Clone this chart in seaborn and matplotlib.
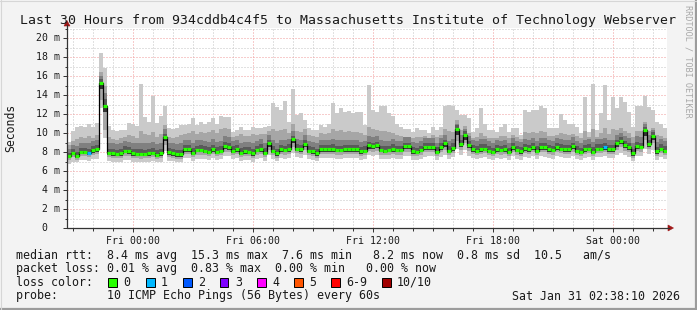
import numpy as np
import pandas as pd
import matplotlib
matplotlib.use("Agg")
import matplotlib.pyplot as plt
import matplotlib.transforms as mtrans
from matplotlib.patches import Rectangle, Polygon
from matplotlib.lines import Line2D
import seaborn as sns

# ---------------- data ----------------
title = "Last 30 Hours from 934cddb4c4f5 to Massachusetts Institute of Technology Webserver"
start_hour = -3.3      # first bin, hours relative to Fri 00:00
step_hours = 0.2       # 12 minute consolidation steps

xtick_pos = [0, 6, 12, 18, 24]
xtick_labels = ["Fri 00:00", "Fri 06:00", "Fri 12:00", "Fri 18:00", "Sat 00:00"]
ytick_pos = [0, 2, 4, 6, 8, 10, 12, 14, 16, 18, 20]
ytick_labels = [" 0", " 2 m", " 4 m", " 6 m", " 8 m", "10 m", "12 m", "14 m", "16 m", "18 m", "20 m"]

median_ms = [
    7.58, 7.93, 7.58, 8.03, 8.03, 7.93, 8.2, 8.3, 15.3, 12.84,
    7.93, 7.86, 7.76, 7.86, 8.14, 8.07, 7.86, 7.8, 7.8, 7.8,
    7.86, 7.93, 7.72, 7.86, 9.61, 7.96, 7.86, 7.76, 7.76, 8.28,
    8.28, 7.93, 8.2, 8.2, 8.14, 8.0, 8.28, 8.0, 8.14, 8.63,
    8.56, 8.14, 8.28, 7.93, 8.07, 8.0, 7.86, 8.2, 8.35, 7.93,
    8.91, 8.14, 7.86, 8.28, 8.2, 8.35, 9.33, 8.35, 8.28, 8.84,
    8.14, 8.07, 7.86, 8.28, 8.28, 8.28, 8.35, 8.2, 8.2, 8.3,
    8.28, 8.28, 8.28, 8.07, 8.14, 8.7, 8.63, 8.7, 8.2, 8.14,
    8.2, 8.35, 8.2, 8.2, 8.63, 8.63, 8.07, 8.0, 8.2, 8.49,
    8.56, 8.56, 8.0, 8.49, 8.91, 8.14, 8.42, 10.46, 8.84, 9.82,
    8.77, 8.28, 8.14, 8.35, 8.35, 8.14, 8.0, 8.28, 8.2, 8.28,
    8.0, 8.56, 8.2, 8.07, 8.42, 8.28, 8.56, 8.14, 8.56, 8.49,
    8.28, 8.2, 8.56, 8.35, 8.28, 8.28, 8.63, 8.14, 8.0, 8.28,
    8.35, 8.0, 8.35, 8.35, 8.56, 8.28, 8.28, 9.0, 9.19, 8.74,
    8.56, 7.86, 8.63, 8.56, 10.32, 8.84, 9.68, 8.1, 8.35, 8.1]

ping_max = [
    9.1, 10.2, 10.67, 10.7, 10.6, 10.95, 10.6, 11.05, 18.45, 16.87,
    10.7, 10.32, 10.25, 10.32, 10.32, 11.05, 10.95, 10.7, 15.16, 11.7,
    11.2, 13.93, 11.1, 11.79, 12.84, 10.49, 10.4, 10.49, 10.84, 10.84,
    10.9, 11.54, 10.84, 11.2, 11.0, 11.2, 11.54, 11.0, 11.79, 11.72,
    11.72, 10.14, 10.32, 10.67, 10.32, 10.3, 10.67, 10.49, 10.55, 10.67,
    10.7, 13.12, 12.77, 12.4, 13.4, 11.2, 14.6, 11.9, 12.1, 11.37,
    10.5, 10.3, 10.35, 10.84, 10.67, 10.9, 13.12, 12.07, 12.6, 12.2,
    12.3, 12.07, 12.18, 12.18, 10.84, 15.05, 12.42, 12.2, 12.84, 12.84,
    12.1, 11.75, 11.0, 10.67, 10.39, 10.39, 10.14, 10.49, 10.32, 10.32,
    9.96, 10.67, 10.32, 10.67, 12.8, 12.9, 12.85, 12.4, 11.9, 11.9,
    11.54, 10.14, 10.5, 12.6, 11.0, 10.3, 10.3, 10.14, 10.67, 10.9,
    10.14, 10.5, 10.5, 9.79, 12.45, 12.2, 12.4, 12.4, 12.8, 12.6,
    10.49, 10.49, 10.49, 11.95, 11.4, 11.0, 11.0, 10.67, 9.96, 13.82,
    10.14, 15.16, 10.32, 12.07, 15.05, 11.4, 13.82, 12.6, 13.82, 13.3,
    12.25, 10.67, 12.84, 12.84, 13.9, 12.77, 12.42, 11.2, 11.0, 10.49]

ping_hi2 = [
    8.7, 9.2, 9.4, 9.6, 9.5, 9.7, 9.5, 9.8, 16.4, 15.0,
    9.6, 9.4, 9.3, 9.5, 9.6, 9.8, 9.7, 9.5, 10.2, 9.9,
    9.8, 10.1, 9.6, 9.9, 10.8, 9.6, 9.5, 9.6, 9.8, 9.9,
    10.0, 10.2, 9.9, 10.1, 10.0, 10.1, 10.3, 10.0, 10.4, 10.5,
    10.4, 9.6, 9.7, 9.9, 9.7, 9.7, 9.9, 9.8, 9.9, 9.9,
    10.2, 10.4, 10.2, 10.3, 10.4, 10.0, 10.9, 10.2, 10.1, 10.4,
    9.8, 9.7, 9.6, 10.0, 9.9, 10.0, 10.4, 10.2, 10.3, 10.1,
    10.2, 10.1, 10.1, 10.0, 9.8, 10.6, 10.4, 10.3, 10.2, 10.2,
    10.1, 10.0, 9.8, 9.7, 9.6, 9.6, 9.5, 9.6, 9.6, 9.7,
    9.5, 9.8, 9.6, 9.8, 10.4, 10.2, 10.1, 11.4, 10.3, 10.7,
    10.0, 9.5, 9.6, 10.0, 9.7, 9.5, 9.5, 9.5, 9.7, 9.7,
    9.5, 9.8, 9.6, 9.4, 10.1, 10.0, 10.1, 10.0, 10.2, 10.1,
    9.7, 9.7, 9.8, 10.0, 9.9, 9.8, 9.9, 9.7, 9.5, 10.2,
    9.6, 10.4, 9.6, 10.0, 10.5, 9.9, 10.4, 10.3, 10.5, 10.2,
    10.0, 9.6, 10.2, 10.2, 11.2, 10.2, 10.5, 9.8, 9.7, 9.5]

ping_hi3 = [
    8.3, 8.7, 8.6, 9.0, 9.0, 9.0, 9.2, 9.3, 16.0, 14.2,
    9.0, 8.9, 8.8, 8.9, 9.2, 9.1, 8.9, 8.9, 9.0, 8.9,
    9.0, 9.1, 8.8, 9.0, 10.4, 9.0, 8.9, 8.8, 8.9, 9.3,
    9.3, 9.0, 9.3, 9.3, 9.2, 9.1, 9.4, 9.1, 9.2, 9.7,
    9.6, 9.2, 9.3, 9.0, 9.1, 9.1, 8.9, 9.2, 9.4, 9.0,
    9.8, 9.3, 9.0, 9.3, 9.3, 9.4, 10.2, 9.4, 9.3, 9.8,
    9.2, 9.1, 9.0, 9.3, 9.3, 9.3, 9.4, 9.3, 9.3, 9.3,
    9.3, 9.3, 9.3, 9.1, 9.2, 9.7, 9.6, 9.7, 9.3, 9.2,
    9.2, 9.4, 9.2, 9.2, 9.6, 9.6, 9.1, 9.0, 9.2, 9.5,
    9.5, 9.5, 9.0, 9.5, 9.8, 9.2, 9.4, 11.0, 9.8, 10.4,
    9.7, 9.3, 9.2, 9.4, 9.4, 9.2, 9.0, 9.3, 9.2, 9.3,
    9.0, 9.5, 9.2, 9.1, 9.4, 9.3, 9.5, 9.2, 9.5, 9.5,
    9.3, 9.2, 9.5, 9.4, 9.3, 9.3, 9.6, 9.2, 9.0, 9.3,
    9.4, 9.1, 9.4, 9.4, 9.5, 9.3, 9.3, 9.8, 10.0, 9.7,
    9.5, 8.9, 9.7, 9.6, 10.9, 9.8, 10.3, 9.1, 9.4, 9.2]

ping_hi4 = [
    7.9, 8.3, 8.0, 8.4, 8.4, 8.3, 8.6, 8.7, 15.7, 13.6,
    8.3, 8.3, 8.2, 8.3, 8.6, 8.5, 8.3, 8.3, 8.3, 8.2,
    8.3, 8.4, 8.2, 8.3, 9.9, 8.4, 8.3, 8.2, 8.2, 8.7,
    8.7, 8.4, 8.6, 8.7, 8.6, 8.5, 8.7, 8.5, 8.6, 9.1,
    9.0, 8.6, 8.7, 8.4, 8.5, 8.5, 8.3, 8.6, 8.8, 8.4,
    9.3, 8.6, 8.3, 8.7, 8.6, 8.8, 9.7, 8.8, 8.7, 9.3,
    8.6, 8.5, 8.3, 8.7, 8.7, 8.7, 8.8, 8.6, 8.6, 8.7,
    8.7, 8.7, 8.7, 8.5, 8.6, 9.1, 9.0, 9.1, 8.6, 8.6,
    8.6, 8.8, 8.6, 8.6, 9.0, 9.0, 8.5, 8.4, 8.6, 8.9,
    9.0, 9.0, 8.5, 8.9, 9.3, 8.6, 8.9, 10.8, 9.3, 10.2,
    9.2, 8.7, 8.6, 8.8, 8.8, 8.6, 8.4, 8.7, 8.6, 8.7,
    8.4, 9.0, 8.6, 8.5, 8.8, 8.7, 9.0, 8.6, 9.0, 8.9,
    8.7, 8.6, 9.0, 8.8, 8.7, 8.7, 9.0, 8.6, 8.4, 8.7,
    8.8, 8.5, 8.8, 8.8, 9.0, 8.7, 8.7, 9.3, 9.6, 9.2,
    8.9, 8.3, 9.1, 9.0, 10.6, 9.3, 10.1, 8.5, 8.8, 8.6]

ping_lo3 = [
    7.35, 7.7, 7.35, 7.75, 7.75, 7.65, 7.9, 8.0, 14.6, 12.2,
    7.7, 7.6, 7.55, 7.6, 7.85, 7.8, 7.6, 7.55, 7.55, 7.55,
    7.6, 7.65, 7.5, 7.6, 9.2, 7.7, 7.6, 7.5, 7.5, 8.0,
    8.0, 7.7, 7.95, 7.95, 7.9, 7.75, 8.0, 7.75, 7.9, 8.3,
    8.25, 7.9, 8.0, 7.7, 7.8, 7.75, 7.6, 7.95, 8.05, 7.7,
    8.5, 7.9, 7.6, 8.0, 7.95, 8.05, 8.9, 8.1, 8.0, 8.5,
    7.9, 7.8, 7.6, 8.0, 8.0, 8.0, 8.05, 7.95, 7.95, 8.05,
    8.0, 8.0, 8.0, 7.8, 7.9, 8.35, 8.3, 8.4, 7.95, 7.9,
    7.95, 8.05, 7.95, 7.95, 8.3, 8.3, 7.8, 7.75, 7.95, 8.2,
    8.25, 8.25, 7.75, 8.2, 8.5, 7.9, 8.15, 9.8, 8.5, 9.3,
    8.4, 8.0, 7.9, 8.05, 8.1, 7.9, 7.75, 8.0, 7.95, 8.0,
    7.75, 8.25, 7.95, 7.8, 8.1, 8.0, 8.25, 7.9, 8.25, 8.2,
    8.0, 7.95, 8.25, 8.1, 8.0, 8.0, 8.3, 7.9, 7.75, 8.0,
    8.1, 7.75, 8.1, 8.1, 8.25, 8.0, 8.0, 8.5, 8.8, 8.45,
    8.2, 7.6, 8.35, 8.3, 9.7, 8.55, 9.3, 7.8, 8.1, 7.9]

ping_lo2 = [
    7.15, 7.45, 7.2, 7.55, 7.55, 7.45, 7.7, 7.8, 13.5, 10.3,
    7.5, 7.4, 7.35, 7.4, 7.6, 7.6, 7.4, 7.35, 7.3, 7.35,
    7.4, 7.45, 7.3, 7.4, 8.7, 7.5, 7.4, 7.3, 7.3, 7.75,
    7.75, 7.45, 7.7, 7.7, 7.65, 7.55, 7.75, 7.55, 7.65, 8.0,
    8.0, 7.65, 7.75, 7.45, 7.6, 7.55, 7.4, 7.7, 7.8, 7.45,
    8.2, 7.65, 7.4, 7.75, 7.7, 7.8, 8.5, 7.85, 7.75, 8.2,
    7.65, 7.6, 7.4, 7.75, 7.75, 7.75, 7.8, 7.7, 7.7, 7.8,
    7.75, 7.75, 7.75, 7.6, 7.65, 8.1, 8.05, 8.1, 7.7, 7.65,
    7.7, 7.8, 7.7, 7.7, 8.05, 8.05, 7.6, 7.55, 7.7, 7.95,
    8.0, 8.0, 7.55, 7.95, 8.2, 7.65, 7.9, 9.2, 8.2, 8.9,
    8.1, 7.75, 7.65, 7.8, 7.85, 7.65, 7.55, 7.75, 7.7, 7.75,
    7.55, 8.0, 7.7, 7.6, 7.85, 7.75, 8.0, 7.65, 8.0, 7.95,
    7.75, 7.7, 8.0, 7.85, 7.75, 7.75, 8.05, 7.65, 7.55, 7.75,
    7.85, 7.55, 7.85, 7.85, 8.0, 7.75, 7.75, 8.2, 8.5, 8.15,
    7.95, 7.4, 8.1, 8.05, 9.3, 8.3, 8.9, 7.6, 7.85, 7.65]

ping_min = [
    6.7, 7.0, 6.9, 7.2, 7.2, 7.1, 7.3, 7.3, 12.6, 9.5,
    7.1, 7.0, 6.95, 7.0, 7.2, 7.2, 7.0, 7.0, 6.95, 7.0,
    7.0, 7.05, 6.95, 7.0, 8.1, 7.1, 7.05, 6.95, 6.95, 7.35,
    7.35, 7.1, 7.3, 7.3, 7.25, 7.2, 7.35, 7.2, 7.25, 7.6,
    7.55, 7.25, 7.35, 7.1, 7.2, 7.2, 7.0, 7.3, 7.4, 7.1,
    7.7, 7.3, 7.05, 7.35, 7.3, 7.4, 7.9, 7.45, 7.35, 7.7,
    7.3, 7.2, 7.05, 7.35, 7.35, 7.35, 7.4, 7.3, 7.3, 7.4,
    7.35, 7.35, 7.35, 7.2, 7.25, 7.65, 7.6, 7.65, 7.3, 7.25,
    7.3, 7.4, 7.3, 7.3, 7.6, 7.6, 7.2, 7.15, 7.3, 7.5,
    7.55, 7.55, 7.15, 7.5, 7.7, 7.25, 7.45, 8.3, 7.7, 8.2,
    7.6, 7.35, 7.25, 7.4, 7.45, 7.25, 7.15, 7.35, 7.3, 7.35,
    7.15, 7.55, 7.3, 7.2, 7.45, 7.35, 7.55, 7.25, 7.55, 7.5,
    7.35, 7.3, 7.55, 7.45, 7.35, 7.35, 7.6, 7.25, 7.15, 7.35,
    7.45, 7.15, 7.45, 7.45, 7.55, 7.35, 7.35, 7.7, 7.9, 7.65,
    7.5, 7.05, 7.6, 7.55, 8.3, 7.75, 8.2, 7.2, 7.45, 7.25]

loss_bins = [5, 134]          # bins with packet loss
loss_counts = [1, 1]          # lost pings in those bins

loss_names = ["0", "1", "2", "3", "4", "5", "6-9", "10/10"]
loss_colors = ["#26ff00", "#00b8ff", "#0059ff", "#7e00ff", "#ff00ff", "#ff5500", "#ff0000", "#a10000"]

stats_line1 = "median rtt:  8.4 ms avg  15.3 ms max  7.6 ms min   8.2 ms now  0.8 ms sd  10.5   am/s"
stats_line2 = "packet loss: 0.01 % avg  0.83 % max  0.00 % min   0.00 % now"
probe_line = "probe:       10 ICMP Echo Pings (56 Bytes) every 60s"
timestamp = "Sat Jan 31 02:38:10 2026"

# ---------------- figure ----------------
W, H, DPI = 697, 310, 100
sns.set_theme(style="white")
plt.rcParams["font.family"] = ["DejaVu Sans Mono"]
plt.rcParams["axes.linewidth"] = 0.0

def fx(px):
    return px / W

def fy(py):
    return 1 - py / H

fig = plt.figure(figsize=(W / DPI, H / DPI), dpi=DPI, facecolor="#f3f3f3")
ax = fig.add_axes([fx(67), fy(228), 600 / W, 200 / H])
ax.set_facecolor("white")
ax.set_xlim(start_hour, start_hour + step_hours * len(median_ms))
ax.set_ylim(0, 200 / 9.5)
for s in ax.spines.values():
    s.set_visible(False)

# grid
ax.set_xticks(xtick_pos)
ax.set_xticks([h for h in range(-3, 27) if h % 6 != 0], minor=True)
ax.set_yticks(ytick_pos)
ax.set_yticks(list(range(1, 22, 2)), minor=True)
ax.grid(which="minor", color="#c4c4c4", linestyle=(0, (1, 2)), linewidth=0.72, zorder=0)
ax.grid(which="major", color="#f09a9a", linestyle=(0, (1, 2)), linewidth=0.72, zorder=0)
ax.set_axisbelow(True)

# smoke
n = len(median_ms)
t = start_hour + step_hours * np.arange(n + 1)

def ext(a):
    a = np.asarray(a, float)
    return np.append(a, a[-1])

bands = [
    (ping_min, ping_max, "#cacaca"),
    (ping_lo2, ping_hi2, "#a6a6a6"),
    (ping_lo3, ping_hi3, "#808080"),
    (ping_lo3, ping_hi4, "#5a5a5a"),
    (ping_lo3, median_ms, "#333333"),
]
for lo, hi, c in bands:
    ax.fill_between(t, ext(lo), ext(hi), step="post", color=c, linewidth=0, zorder=1)

# median line
df = pd.DataFrame({"t": t, "median": ext(median_ms)})
sns.lineplot(data=df, x="t", y="median", drawstyle="steps-post", color="black",
             linewidth=0.9, ax=ax, zorder=3, estimator=None, sort=False, legend=False)
seg_colors = [loss_colors[0]] * n
for b, c in zip(loss_bins, loss_counts):
    seg_colors[b] = loss_colors[c]
ax.hlines(median_ms, t[:-1], t[1:], colors=seg_colors, linewidth=2.3, zorder=4)
ax.set_xlabel("")
ax.set_ylabel("")

# ticks
ax.set_xticklabels(xtick_labels, fontsize=7.1, color="#1a1a1a")
ax.tick_params(axis="x", which="major", length=3, width=0.7, color="#303030", pad=2.5, direction="out", bottom=True)
ax.tick_params(axis="x", which="minor", length=2, width=0.7, color="#303030", direction="out", bottom=True)
ax.tick_params(axis="y", which="major", length=3, width=0.7, color="#303030", direction="out", left=True, labelleft=False)
ax.tick_params(axis="y", which="minor", length=1.5, width=0.7, color="#303030", direction="out", left=True)
ytr = mtrans.blended_transform_factory(fig.transFigure, ax.transData)
for v, lab in zip(ytick_pos, ytick_labels):
    ax.text(fx(36), v, lab, transform=ytr, ha="left", va="center", fontsize=7.1, color="#1a1a1a", clip_on=False)

# axis lines + arrows
axis_col = "#333333"
fig.add_artist(Line2D([fx(67), fx(669)], [fy(228), fy(228)], color=axis_col, linewidth=0.9))
fig.add_artist(Line2D([fx(67), fx(67)], [fy(228), fy(25)], color=axis_col, linewidth=0.9))
arrow_col = "#a01818"
fig.add_artist(Polygon([[fx(668), fy(225)], [fx(668), fy(231)], [fx(673.5), fy(228)]],
                       closed=True, facecolor=arrow_col, edgecolor=arrow_col, linewidth=0.4))
fig.add_artist(Polygon([[fx(64), fy(26)], [fx(70), fy(26)], [fx(67), fy(20.5)]],
                       closed=True, facecolor=arrow_col, edgecolor=arrow_col, linewidth=0.4))

# texts
fig.text(fx(348.5), fy(24), title, ha="center", va="baseline", fontsize=9.55, color="#1a1a1a")
fig.text(fx(10.5), fy(128), "Seconds", rotation=90, ha="center", va="center", fontsize=8.3, color="#1a1a1a")
fig.text(fx(688), fy(5), "RRDTOOL / TOBI OETIKER", rotation=270, ha="center", va="top",
         fontsize=6.1, color="#a8a8a8")

fig.text(fx(16), fy(258.5), stats_line1, ha="left", va="baseline", fontsize=8.4, color="#1a1a1a")
fig.text(fx(16), fy(272), stats_line2, ha="left", va="baseline", fontsize=8.4, color="#1a1a1a")
fig.text(fx(16), fy(285.8), "loss color:", ha="left", va="baseline", fontsize=8.4, color="#1a1a1a")
sq_x = [108, 146, 183, 220, 257, 294, 331, 382]
for x0, name, col in zip(sq_x, loss_names, loss_colors):
    fig.add_artist(Rectangle((fx(x0), fy(286.5)), 8.5 / W, 8.5 / H, transform=fig.transFigure,
                             facecolor=col, edgecolor="black", linewidth=0.7))
    fig.text(fx(x0 + 15), fy(285.8), name, ha="left", va="baseline", fontsize=8.4, color="#1a1a1a")
fig.text(fx(16), fy(299.5), probe_line, ha="left", va="baseline", fontsize=8.4, color="#1a1a1a")
fig.text(fx(680), fy(299.5), timestamp, ha="right", va="baseline", fontsize=8.4, color="#1a1a1a")

# frame
fig.add_artist(Line2D([0, 1], [fy(308.5), fy(308.5)], color="#9c9c9c", linewidth=1.6))
fig.add_artist(Line2D([fx(695.5), fx(695.5)], [0, 1], color="#9c9c9c", linewidth=1.6))
fig.add_artist(Line2D([0, 1], [fy(0.5), fy(0.5)], color="#d6d6d6", linewidth=0.8))
fig.add_artist(Line2D([fx(0.5), fx(0.5)], [0, 1], color="#d6d6d6", linewidth=0.8))

fig.savefig("out.png", dpi=DPI, facecolor=fig.get_facecolor())
